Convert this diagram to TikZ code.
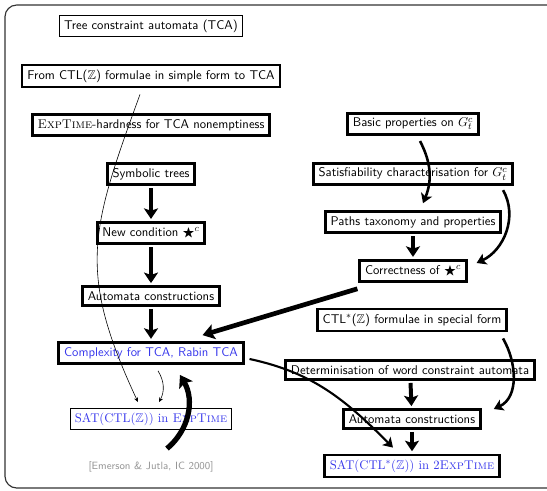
\documentclass[tikz,border=0pt]{standalone}
\usepackage{amssymb}
\usetikzlibrary{arrows.meta}
\renewcommand{\familydefault}{\sfdefault}
\definecolor{satblue}{RGB}{55,55,235}
\definecolor{refgray}{RGB}{150,150,150}

\begin{document}
\begin{tikzpicture}[x=0.03cm, y=-0.03cm,
	every node/.style={font=\fontsize{10.8pt}{13pt}\selectfont},
	thinbox/.style={draw, line width=0.8pt, inner xsep=4pt, inner ysep=3.5pt},
	thickbox/.style={draw, line width=2.4pt, inner xsep=4.5pt, inner ysep=4pt},
	bigarrow/.style={line width=3.4pt, -{Stealth[length=9pt,width=12pt,inset=2pt]}, shorten <=2pt, shorten >=2pt},
	midarrow/.style={line width=2.2pt, -{Stealth[length=8pt,width=10pt,inset=2pt]}},
	fatarrow/.style={line width=4pt, -{Stealth[length=10pt,width=13pt,inset=2pt]}},
	thinarrow/.style={line width=0.5pt, -{Stealth[length=4pt,width=3.5pt]}}]
	\useasboundingbox (0,0) rectangle (547,490);
	\draw[line width=1pt, black!80, rounded corners=10pt] (5,488) rectangle (580,5);

	% left column
	\node (tca)   at (151, 26)	[thinbox]	{Tree constraint automata (TCA)};
	\node (from)  at (151, 76)	[thickbox]	{From CTL($\mathbb{Z}$) formulae in simple form to TCA};
	\node (hard)  at (151,125)	[thickbox]	{\textrm{\textsc{ExpTime}}-hardness for TCA nonemptiness};
	\node (sym)   at (151,174)	[thickbox]	{Symbolic trees};
	\node (newc)  at (151,233)	[thickbox]	{New condition $\bigstar^{c}$};
	\node (autl)  at (151,296)	[thickbox]	{Automata constructions};
	\node (cplx)  at (151,353)	[thickbox, text=satblue]	{Complexity for TCA, Rabin TCA};
	\node (satl)  at (151,419)	[thinbox, text=satblue]	{\rmfamily SAT(CTL($\mathbb{Z}$)) in \textsc{ExpTime}};
	\node (emer)  at (151,467)	[text=refgray, font=\small]	{[Emerson \& Jutla, IC 2000]};

	% right column
	\node (basic) at (413,124)	[thickbox]	{Basic properties on $G_t^{c}$};
	\node (satc)  at (413,174)	[thickbox]	{Satisfiability characterisation for $G_t^{c}$};
	\node (paths) at (413,222)	[thickbox]	{Paths taxonomy and properties};
	\node (corr)  at (413,271)	[thickbox]	{Correctness of $\bigstar^{c}$};
	\node (spec)  at (412,320)	[thickbox]	{CTL$^{*}$($\mathbb{Z}$) formulae in special form};
	\node (det)   at (410,370)	[thickbox]	{Determinisation of word constraint automata};
	\node (autr)  at (412,419)	[thickbox]	{Automata constructions};
	\node (satr)  at (412,466)	[thickbox, text=satblue]	{\rmfamily SAT(CTL$^{*}$($\mathbb{Z}$)) in 2\textsc{ExpTime}};

	\draw[bigarrow] (sym) -- (newc);
	\draw[bigarrow] (newc) -- (autl);
	\draw[bigarrow] (autl) -- (cplx);
	\draw[bigarrow] (paths) -- (corr);
	\draw[bigarrow] (det) -- (autr);
	\draw[bigarrow] (autr) -- (satr);

	\draw[midarrow] ([shift={(7,5)}]basic.south) to[bend left=25] ([shift={(10,-7)}]paths.north);
	\draw[midarrow] ([shift={(-11,4)}]satc.south east) to[out=-60, in=25] ([shift={(9,-8)}]corr.east);
	\draw[midarrow] ([shift={(-5,6)}]spec.south east) to[out=-60, in=25] ([shift={(12,-10)}]autr.east);
	\draw[fatarrow] ([shift={(-1,6)}]corr.south west) -- ([shift={(-42,-6)}]cplx.north east);
	\draw[line width=1.8pt, -{Stealth[length=8pt,width=10pt,inset=2pt]}] ([shift={(5,6)}]cplx.east) to[out=-12, in=135] ([shift={(-19,-6)}]satr.north);

	\draw[thinarrow] ([shift={(-11,6)}]from.south) to[out=-110, in=115, looseness=1.2] ([shift={(-13,-6)}]satl.north);
	\draw[thinarrow] ([shift={(7,6)}]cplx.south) to[bend left=30] ([shift={(8,-6)}]satl.north);
	\draw[line width=4.5pt, -{Stealth[length=10pt,width=13pt,inset=2pt]}] ([shift={(16,-9)}]emer.north) to[bend right=40] ([shift={(29,10)}]cplx.south);
\end{tikzpicture}
\end{document}
